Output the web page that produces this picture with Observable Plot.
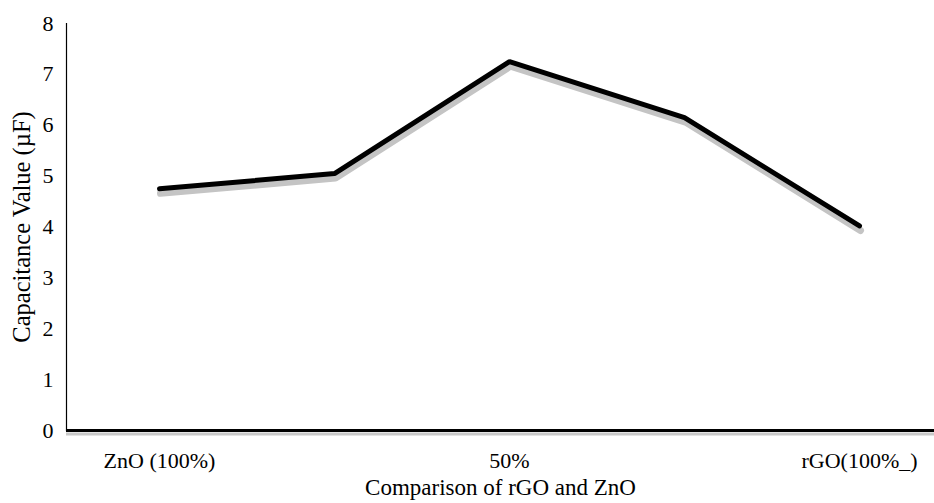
<!DOCTYPE html>
<html>
<head>
<meta charset="utf-8">
<script src="https://cdn.jsdelivr.net/npm/d3@7"></script>
<script src="https://cdn.jsdelivr.net/npm/@observablehq/plot@0.6"></script>
<style>
  html, body { margin: 0; padding: 0; background: #fff; }
  #chart svg { display: block; }
</style>
</head>
<body>
<div id="chart"></div>
<script>
const categories = [0, 1, 2, 3, 4];
const tickLabels = ["ZnO (100%)", "", "50%", "", "rGO(100%_)"];
const capacitance = [4.75, 5.05, 7.25, 6.15, 4.02];
const yTicks = [0, 1, 2, 3, 4, 5, 6, 7, 8];
const yTitle = "Capacitance Value (\u00b5F)";
const xTitle = "Comparison of rGO and ZnO";

const data = categories.map((c, i) => ({x: c, y: capacitance[i]}));

const font = "'Liberation Serif', 'Times New Roman', serif";

const chart = Plot.plot({
  width: 934,
  height: 503,
  marginLeft: 66,
  marginRight: 0,
  marginTop: 23,
  marginBottom: 73,
  style: {fontFamily: font, fontSize: "22px", color: "#000", background: "#fff", overflow: "visible"},
  x: {type: "point", domain: categories, range: [158, 860], padding: 0},
  y: {domain: [0, 8]},
  marks: [
    Plot.axisY({ticks: yTicks, tickSize: 0, tickPadding: 13, label: null, fontSize: 22}),
    Plot.axisX({ticks: categories, tickSize: 0, tickPadding: 22, tickFormat: d => tickLabels[d], label: null, fontSize: 22}),
    Plot.text([yTitle], {frameAnchor: "left", dx: -44, dy: 0, rotate: -90, textAnchor: "middle", lineAnchor: "middle", fontSize: 24.5, fill: "#000"}),
    Plot.text([xTitle], {frameAnchor: "bottom", dy: 57.5, textAnchor: "middle", lineAnchor: "middle", fontSize: 23, fill: "#000"}),
    Plot.frame({anchor: "left", stroke: "#000", strokeWidth: 1.2, strokeOpacity: 1}),
    Plot.ruleY([0], {stroke: "#c8c8c8", strokeWidth: 3, dy: 3.5}),
    Plot.ruleY([0], {stroke: "#000", strokeWidth: 3}),
    Plot.line(data, {x: "x", y: "y", stroke: "#c4c4c4", strokeWidth: 7, dx: 1, dy: 4.5, strokeLinejoin: "miter"}),
    Plot.line(data, {x: "x", y: "y", stroke: "#000", strokeWidth: 5, strokeLinejoin: "miter"})
  ]
});
document.getElementById("chart").appendChild(chart);
</script>
</body>
</html>
